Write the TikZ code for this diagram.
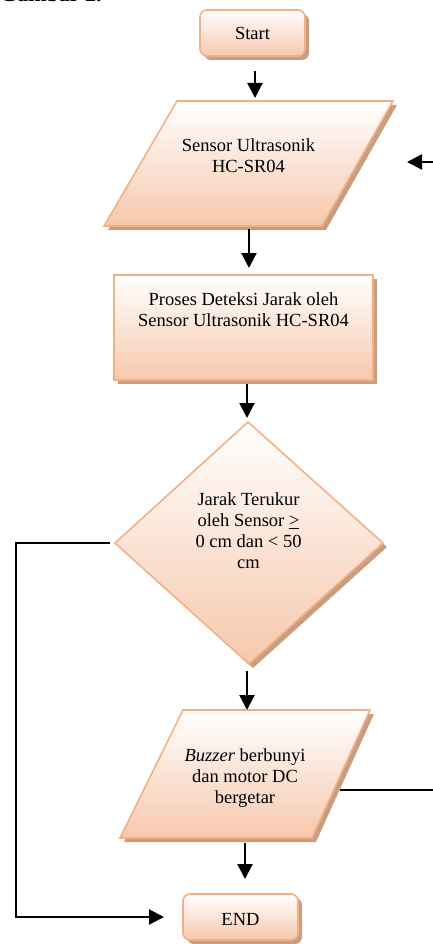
\documentclass[tikz,border=0pt]{standalone}
\usepackage{fontspec}
\setmainfont{Liberation Serif}
\usetikzlibrary{arrows.meta}

\definecolor{peachedge}{RGB}{244,176,132}
\definecolor{peachlow}{RGB}{246,200,172}
\definecolor{shadowtan}{RGB}{200,158,128}

\tikzset{
  shapefill/.style={draw=peachedge, line width=1.6pt, top color=white, bottom color=peachlow},
  shadowfill/.style={fill=shadowtan},
  flow/.style={line width=2.2pt, line join=miter, -{Triangle[width=15pt,length=15pt]}},
  plainline/.style={line width=2.2pt},
  lbl/.style={font=\fontsize{18.5}{21}\selectfont, align=center, inner sep=0pt},
}

\begin{document}
\begin{tikzpicture}[x=1pt,y=-1pt]
\useasboundingbox (0,0) rectangle (433,944);

% caption line above the chart (only its lowest edge lies on the page)
\node[font=\bfseries\fontsize{22}{24}\selectfont, anchor=base west, inner sep=0pt] (caption) at (0,1.2) {Gambar 2.};

% Start terminator
\fill[shadowfill, rounded corners=7pt] (204,14) rectangle (309,60);
\path[shapefill, rounded corners=7pt] (200,10) rectangle (305,56);
\node[lbl] (start) at (252.5,33.3) {Start};
\coordinate (start-out) at (255,71);

% sensor input
\fill[shadowfill] (181,105) -- (397,105) -- (326,230) -- (108,230) -- cycle;
\path[shapefill] (177,101) -- (393,101) -- (322,226) -- (104,226) -- cycle;
\node[lbl] (sensor) at (248.5,155.5) {Sensor Ultrasonik\\HC-SR04};
\coordinate (sensor-in) at (255,98);
\coordinate (sensor-out) at (249,229);
\coordinate (loop-from) at (433,162);
\coordinate (loop-tip) at (407,162);

% distance detection process
\fill[shadowfill] (118,279) rectangle (377,384);
\path[shapefill] (114,275) rectangle (373,380);
\node[lbl] (proses) at (243.5,309.5) {Proses Deteksi Jarak oleh\\Sensor Ultrasonik HC-SR04};
\coordinate (proses-in) at (249,268);
\coordinate (proses-out) at (247,384);

% decision
\fill[shadowfill] (252,426) -- (387,547) -- (253,668) -- (119,547) -- cycle;
\path[shapefill] (248,422) -- (383,543) -- (249,664) -- (115,543) -- cycle;
\node[lbl] (cek) at (248.5,530.5) {Jarak Terukur\\oleh Sensor \underline{>}\\0 cm dan < 50\\cm};
\coordinate (cek-in) at (247,418);
\coordinate (cek-no) at (110,543);
\coordinate (bend-top) at (16,543);
\coordinate (bend-bot) at (16,917);
\coordinate (cek-out) at (247,671);

% buzzer / motor output
\fill[shadowfill] (187,714) -- (374,714) -- (316,842) -- (124,842) -- cycle;
\path[shapefill] (183,710) -- (370,710) -- (312,838) -- (120,838) -- cycle;
\node[lbl] (buzzer) at (245,778) {\textit{Buzzer} berbunyi\\dan motor DC\\bergetar};
\coordinate (buzzer-in) at (247,710);
\coordinate (buzzer-side) at (340,790);
\coordinate (side-end) at (433,790);
\coordinate (buzzer-out) at (245,843);

% END terminator
\fill[shadowfill, rounded corners=7pt] (187,898) rectangle (302,944);
\path[shapefill, rounded corners=7pt] (183,894) rectangle (298,940);
\node[lbl] (stop) at (240.5,919) {END};
\coordinate (stop-in) at (245,879);
\coordinate (stop-left) at (164,917);

% connectors
\draw[flow] (start-out) -- (sensor-in);
\draw[flow] (loop-from) -- (loop-tip);
\draw[flow] (sensor-out) -- (proses-in);
\draw[flow] (proses-out) -- (cek-in);
\draw[flow] (cek-out) -- (buzzer-in);
\draw[flow] (buzzer-out) -- (stop-in);
\draw[flow] (cek-no) -- (bend-top) -- (bend-bot) -- (stop-left);
\draw[plainline] (buzzer-side) -- (side-end);
\end{tikzpicture}
\end{document}
